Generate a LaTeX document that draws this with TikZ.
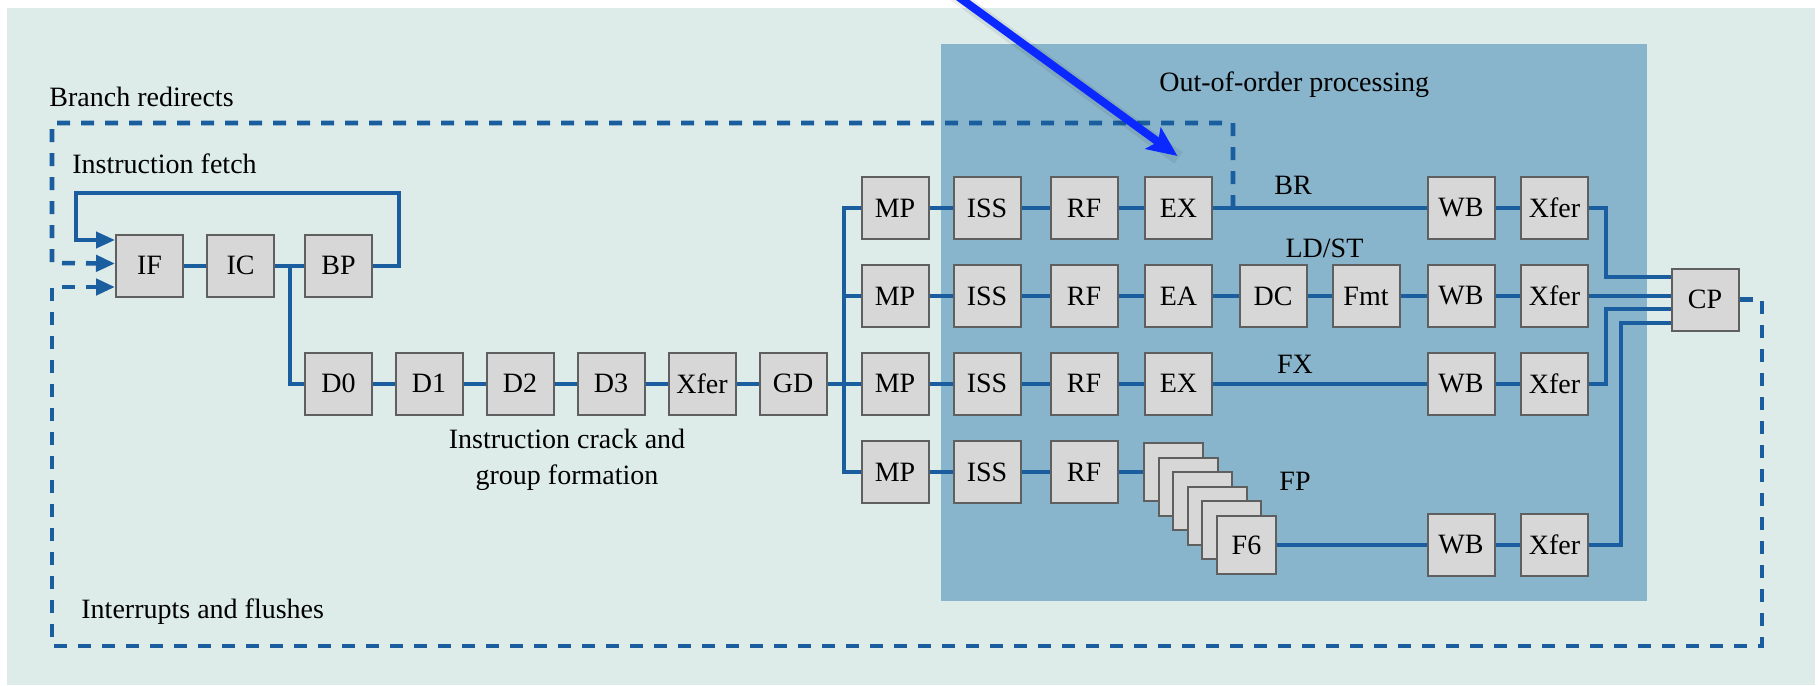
\documentclass[tikz,border=0pt]{standalone}
\usepackage{fontspec}
\setmainfont{Liberation Serif}
\usetikzlibrary{arrows.meta,calc}
\definecolor{bgl}{RGB}{221,236,233}
\definecolor{bgd}{RGB}{137,181,204}
\definecolor{ln}{RGB}{26,94,160}
\definecolor{boxf}{RGB}{215,215,215}
\definecolor{boxd}{RGB}{95,95,95}
\definecolor{pointer}{RGB}{10,40,255}
\begin{document}
\begin{tikzpicture}[x=0.5pt,y=-0.5pt,
 stage/.style={draw=boxd,fill=boxf,line width=1pt,minimum width=33.5pt,minimum height=31pt,inner sep=0pt,font=\fontsize{14}{16}\selectfont},
 fpbox/.style={stage,minimum width=29.5pt,minimum height=29pt},
 wire/.style={draw=ln,line width=2pt},
 dashwire/.style={draw=ln,line width=2.3pt,dash pattern=on 6.5pt off 5.5pt},
 lab/.style={font=\fontsize{14}{18}\selectfont,inner sep=0pt,text=black},
 tip/.style={-{Triangle[length=9.5pt,width=8pt]}},
]
% backgrounds
\fill[white] (0,0) rectangle (1818,685);
\fill[bgl] (7,8) rectangle (1815,685);
\fill[bgd] (941,44) rectangle (1647,601);
\useasboundingbox (0,0) rectangle (1818,685);

% labels
\node[lab,anchor=base west] (lbr) at (49,106) {Branch redirects};
\node[lab,anchor=base west] (lif) at (72,173) {Instruction fetch};
\node[lab,anchor=base] (lcr1) at (567,448) {Instruction crack and};
\node[lab,anchor=base] (lcr2) at (567,484) {group formation};
\node[lab,anchor=base west] (lint) at (81,618) {Interrupts and flushes};
\node[lab,anchor=base west] (looo) at (1159,91) {Out-of-order processing};
\node[lab,anchor=base] (lBR) at (1293,194) {BR};
\node[lab,anchor=base] (lLD) at (1324.5,257) {LD/ST};
\node[lab,anchor=base] (lFX) at (1295,373) {FX};
\node[lab,anchor=base] (lFP) at (1295,490) {FP};

% front end
\node[stage] (IF) at (149.5,265.5) {IF};
\node[stage] (IC) at (240.5,265.5) {IC};
\node[stage] (BP) at (338.5,265.5) {BP};
\node[stage] (D0) at (338.5,383.5) {D0};
\node[stage] (D1) at (429,383.5) {D1};
\node[stage] (D2) at (520,383.5) {D2};
\node[stage] (D3) at (611,383.5) {D3};
\node[stage] (XD) at (702,383.5) {Xfer};
\node[stage] (GD) at (793,383.5) {GD};

% issue rows
\foreach \r/\y in {1/208,2/296,3/383.5,4/472}{
  \node[stage] (MP\r) at (895,\y) {MP};
  \node[stage] (ISS\r) at (987,\y) {ISS};
  \node[stage] (RF\r) at (1084,\y) {RF};
}
\node[stage] (EX1) at (1178.5,208) {EX};
\node[stage] (EA) at (1178.5,296) {EA};
\node[stage] (DC) at (1273,296) {DC};
\node[stage] (Fmt) at (1366,296) {Fmt};
\node[stage] (EX3) at (1178.5,383.5) {EX};
\foreach \r/\y in {1/208,2/296,3/383.5,4/545}{
  \node[stage] (WB\r) at (1461,\y) {WB};
  \node[stage] (Xf\r) at (1554.5,\y) {Xfer};
}
\node[stage] (CP) at (1705,299.5) {CP};

% FP stack
\foreach \k in {1,...,5}{
  \node[fpbox] (fp\k) at ({1173.5+14.6*(\k-1)},{472+14.6*(\k-1)}) {};
}
\node[fpbox] (fp6) at (1246.5,545) {F6};

% solid connectors
\foreach \a/\b in {IF/IC,IC/BP,D0/D1,D1/D2,D2/D3,D3/XD,XD/GD,GD/MP3,
  MP1/ISS1,ISS1/RF1,RF1/EX1,EX1/WB1,WB1/Xf1,
  MP2/ISS2,ISS2/RF2,RF2/EA,EA/DC,DC/Fmt,Fmt/WB2,WB2/Xf2,
  MP3/ISS3,ISS3/RF3,RF3/EX3,EX3/WB3,WB3/Xf3,
  MP4/ISS4,ISS4/RF4,RF4/fp1,fp6/WB4,WB4/Xf4}{
  \draw[wire] (\a) -- (\b);
}
\coordinate (j1) at ($(IC.east)!0.5!(BP.west)$);
\draw[wire] (j1) |- (D0.west);
\coordinate (j2) at ($(GD.east)!0.5!(MP3.west)$);
\draw[wire] (MP1.west) -| (j2) |- (MP4.west);
\draw[wire] (j2 |- MP2.west) -- (MP2.west);

% fetch loop
\draw[wire,tip] (BP.east) -- ++(26,0) -- ++(0,-72.5) -| ($(IF.west)+(-39,-25.5)$) -- ($(IF.west)+(0,-25.5)$);

% into CP
\draw[wire] (Xf1.east) -- ++(17,0) |- ($(CP.west)+(0,-22.5)$);
\draw[wire] (Xf2.east) -- (CP.west |- Xf2.east);
\draw[wire] (Xf3.east) -- ++(17,0) |- ($(CP.west)+(0,9.5)$);
\draw[wire] (Xf4.east) -- ++(32,0) |- ($(CP.west)+(0,23.5)$);

% branch redirects
\coordinate (brtap) at (1233,208);
\draw[dashwire,tip] (brtap) -- (1233,123) -- (52,123) -- (52,263) -- ($(IF.west)+(0,-2)$);

% interrupts and flushes
\draw[dashwire,tip] (CP.east) -- (1762,299.5) -- (1762,646) -- (52,646) -- (52,287) -- ($(IF.west)+(0,21.5)$);

% pointer arrow
\coordinate (ptrstart) at (949,-10);
\draw[black,opacity=0.07,line width=7pt] ($(ptrstart)+(2,2)$) -- ($(EX1.north)+(0,-18)$);
\draw[pointer,line width=4pt,-{Stealth[length=15pt,width=13pt,inset=3pt]}] (ptrstart) -- ($(EX1.north)+(-1,-20)$);
\end{tikzpicture}
\end{document}
